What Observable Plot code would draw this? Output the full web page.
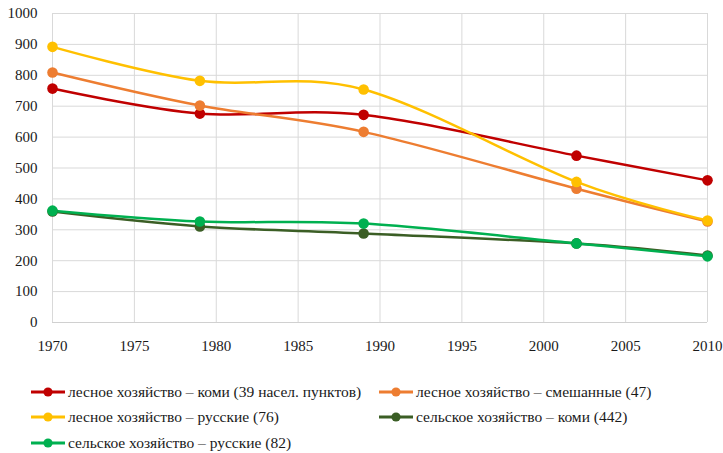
<!DOCTYPE html>
<html><head><meta charset="utf-8">
<script src="https://cdn.jsdelivr.net/npm/d3@7"></script>
<script src="https://cdn.jsdelivr.net/npm/@observablehq/plot@0.6"></script>
<style>
body{margin:0;background:#fff;font-family:'Liberation Serif',serif;}
#legend{position:relative;width:723px;height:95px;font-size:15.5px;color:#1a1a1a;font-family:'Liberation Serif',serif;}
.item{position:absolute;display:flex;align-items:center;white-space:nowrap;height:20px;}
.item svg{margin-right:3px;}
</style></head><body>
<div id="chart"></div>
<div id="legend"></div>
<script>
const years = [1970, 1979, 1989, 2002, 2010];
const seriesNames = [
  "лесное хозяйство – коми (39 насел. пунктов)",
  "лесное хозяйство – смешанные (47)",
  "лесное хозяйство – русские (76)",
  "сельское хозяйство – коми (442)",
  "сельское хозяйство – русские (82)"
];
const colors = ["#c00000", "#ed7d31", "#ffc000", "#3b5e25", "#00b050"];
const lesKomi = [757, 676, 672, 540, 460];
const lesMixed = [809, 702, 617, 433, 327];
const lesRus = [892, 782, 754, 455, 330];
const selKomi = [359, 311, 288, 256, 217];
const selRus = [362, 327, 320, 256, 214];
const allValues = [lesKomi, lesMixed, lesRus, selKomi, selRus];
const xTicks = [1970, 1975, 1980, 1985, 1990, 1995, 2000, 2005, 2010];
const yTicks = [0, 100, 200, 300, 400, 500, 600, 700, 800, 900, 1000];

const data = [];
allValues.forEach((vals, i) => vals.forEach((v, j) => data.push({series: seriesNames[i], year: years[j], value: v})));

const chart = Plot.plot({
  width: 723, height: 358,
  marginLeft: 52, marginRight: 16, marginTop: 13, marginBottom: 36,
  style: {fontFamily: "'Liberation Serif', serif", fontSize: "15px", color: "#1a1a1a"},
  x: {domain: [1970, 2010], ticks: xTicks, tickFormat: d => String(d), tickSize: 0, tickPadding: 18, label: null},
  y: {domain: [0, 1000], ticks: yTicks, tickFormat: d => String(d), tickSize: 0, tickPadding: 15, label: null},
  color: {domain: seriesNames, range: colors},
  marks: [
    Plot.gridX(xTicks, {stroke: "#d9d9d9", strokeOpacity: 1, strokeWidth: 1}),
    Plot.gridY(yTicks, {stroke: "#d9d9d9", strokeOpacity: 1, strokeWidth: 1}),
    Plot.ruleY([0], {stroke: "#d0d0d0", strokeWidth: 1}),
    Plot.line(data, {x: "year", y: "value", z: "series", stroke: "series", strokeWidth: 2.5, curve: "cardinal"}),
    Plot.dot(data, {x: "year", y: "value", fill: "series", r: 5.3})
  ]
});
chart.querySelectorAll("text").forEach(t => t.style.fontFamily = "'Liberation Serif', serif");
document.getElementById("chart").appendChild(chart);

const positions = [[31, 33.7], [379, 33.7], [31, 59.3], [379, 59.3], [31, 85.3]];
const legend = document.getElementById("legend");
seriesNames.forEach((name, i) => {
  const div = document.createElement("div");
  div.className = "item";
  div.style.left = positions[i][0] + "px";
  div.style.top = (positions[i][1] - 10) + "px";
  div.innerHTML = `<svg width="34" height="12"><line x1="0" y1="6" x2="34" y2="6" stroke="${colors[i]}" stroke-width="3"/><circle cx="17" cy="6" r="4.6" fill="${colors[i]}"/></svg><span>${name}</span>`;
  legend.appendChild(div);
});
</script>
</body></html>
